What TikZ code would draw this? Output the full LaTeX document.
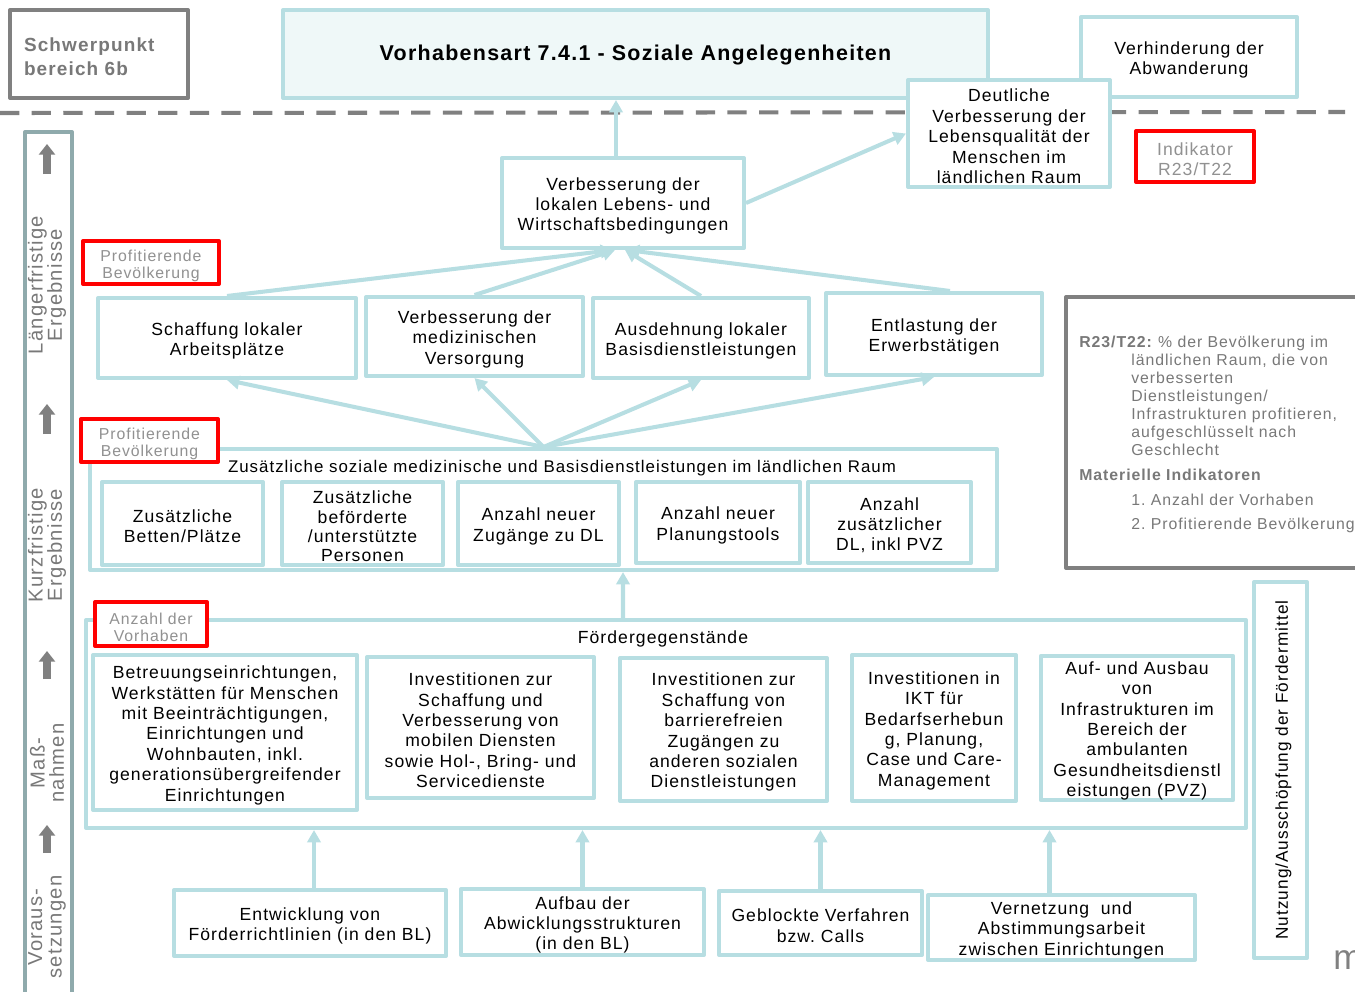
\documentclass[tikz,border=0pt]{standalone}
\usepackage{fontspec}
\setmainfont{Liberation Sans}[LetterSpace=6.0]
\usetikzlibrary{arrows.meta,calc}
\definecolor{boxcyan}{RGB}{183,222,226}
\definecolor{titlefill}{RGB}{239,248,248}
\definecolor{framegray}{RGB}{128,128,128}
\definecolor{sidegray}{RGB}{143,170,172}
\definecolor{txtgray}{RGB}{120,120,120}
\definecolor{redgray}{RGB}{145,145,145}
\frenchspacing
\begin{document}
\begin{tikzpicture}[x=0.02cm,y=-0.02cm,line join=round,
    every node/.style={font=\fontsize{10}{11.6}\selectfont,align=center,inner sep=0pt},
    sz/.style 2 args={minimum width=#1*0.02cm,minimum height=#2*0.02cm,text width={(#1-8)*0.02cm}},
    lowtxt/.style={execute at begin node={\rule{0pt}{10.5pt}}},
    box/.style={draw=boxcyan,line width=2.3pt,fill=white,lowtxt},
    redbox/.style={draw=red,line width=2.3pt,fill=white,text=redgray,lowtxt,font=\fontsize{9}{9.6}\selectfont},
    arr/.style={draw=boxcyan,line width=2.3pt,-{Triangle[length=7pt,width=7.5pt]}},
    sidearr/.style={draw=framegray,line width=4pt,-{Triangle[length=6pt,width=9pt]}},
    sidetxt/.style={rotate=90,text=txtgray,font=\fontsize{11.5}{11}\selectfont},
    dashln/.style={draw=framegray,line width=2.3pt,dash pattern=on 11pt off 7pt}]
    \useasboundingbox (0,0) rectangle (1355,991);
    % Kopfzeile
    \node[draw=framegray,line width=2.3pt,sz={178}{88},text=txtgray,align=left,text width=150*0.02cm,lowtxt,
        font=\bfseries\fontsize{10.8}{13.6}\selectfont] (sp) at (99,54) {Schwerpunkt\\bereich 6b};
    \node[draw=boxcyan,fill=titlefill,line width=2.3pt,sz={705}{88},lowtxt,font=\bfseries\fontsize{12.2}{14}\selectfont]
        (title) at (635.5,54) {Vorhabensart 7.4.1 - Soziale Angelegenheiten};
    \node[box,sz={216}{80}] (abw) at (1189,57) {Verhinderung der\\Abwanderung};
    \draw[dashln] (0,113)--(1345,112);
    \node[box,sz={202}{107}] (lq) at (1009,133.5) {Deutliche\\Verbesserung der\\Lebensqualität der\\Menschen im\\ländlichen Raum};
    \node[redbox,sz={118}{51},font=\fontsize{10}{11.6}\selectfont] (ind) at (1195,156.5) {Indikator\\R23/T22};
    % Seitenleiste
    \draw[sidegray,line width=2.3pt] (25,132) rectangle (72,1010);
    \draw[sidearr] (47,174)--(47,144);
    \draw[sidearr] (47,434)--(47,404);
    \draw[sidearr] (47,679)--(47,651);
    \draw[sidearr] (47,853)--(47,825);
    \node[sidetxt] (lt) at (47,285) {Längerfristige\\Ergebnisse};
    \node[sidetxt] (kt) at (47,545) {Kurzfristige\\Ergebnisse};
    \node[sidetxt] (mt) at (47,763) {Maß-\\nahmen};
    \node[sidetxt] (vt) at (47,927) {Voraus-\\setzungen};
    % laengerfristige Ergebnisse
    \node[box,sz={242}{90}] (vl) at (623,203) {Verbesserung der\\lokalen Lebens- und\\Wirtschaftsbedingungen};
    \draw[arr] (vl.north)++(-7,0) coordinate (v0)--(v0 |- title.south);
    \draw[arr] (vl.east)--(lq.west);
    \node[redbox,sz={136}{43}] (pb1) at (151,262.5) {Profitierende\\Bevölkerung};
    \node[box,sz={258}{80}] (arb) at (227,338) {Schaffung lokaler\\Arbeitsplätze};
    \node[box,sz={217}{79}] (med) at (474.5,336.5) {Verbesserung der\\medizinischen\\Versorgung};
    \node[box,sz={216}{80}] (bdl) at (701,338) {Ausdehnung lokaler\\Basisdienstleistungen};
    \node[box,sz={216}{82}] (erw) at (934,334) {Entlastung der\\Erwerbstätigen};
    \draw[arr] (arb.north)--($(vl.south)+(-10,0)$);
    \draw[arr] (med.north)--($(vl.south)+(-8,0)$);
    \draw[arr] (bdl.north)--($(vl.south)+(2,0)$);
    \draw[arr] ($(erw.north)+(16,0)$)--($(vl.south)+(4,0)$);
    % kurzfristige Ergebnisse
    \node[box,sz={907}{121}] (zus) at (543.5,509.5) {};
    \node[lowtxt,font=\fontsize{9.6}{11.6}\selectfont] (zust) at (562,465) {Zusätzliche soziale medizinische und Basisdienstleistungen im ländlichen Raum};
    \node[box,sz={161}{83}] (z1) at (182.5,523.5) {Zusätzliche\\Betten/Plätze};
    \node[box,sz={161}{83},font=\fontsize{10}{10.9}\selectfont] (z2) at (362.5,523.5) {Zusätzliche\\beförderte\\/unterstützte\\Personen};
    \node[box,sz={161}{83}] (z3) at (538.5,523.5) {Anzahl neuer\\Zugänge zu DL};
    \node[box,sz={164}{81}] (z4) at (718,522.5) {Anzahl neuer\\Planungstools};
    \node[box,sz={163}{81}] (z5) at (889.5,522.5) {Anzahl\\zusätzlicher\\DL, inkl PVZ};
    \node[redbox,sz={137}{43}] (pb2) at (149.5,440.5) {Profitierende\\Bevölkerung};
    \foreach \n in {arb,med,bdl,erw}
        \draw[arr] (zus.north)--(\n.south);
    % Massnahmen
    \node[box,sz={1160}{208}] (foe) at (666,724) {};
    \node[lowtxt] (foet) at (663,636) {Fördergegenstände};
    \draw[arr] ($(foe.north)+(-43,0)$)--($(zus.south)+(79.5,0)$);
    \node[redbox,sz={112}{44}] (av) at (151,624) {Anzahl der\\Vorhaben};
    \node[box,sz={264}{155}] (f1) at (225,732.5) {Betreuungseinrichtungen,\\Werkstätten für Menschen\\mit Beeinträchtigungen,\\Einrichtungen und\\Wohnbauten, inkl.\\generationsübergreifender\\Einrichtungen};
    \node[box,sz={227}{141}] (f2) at (480.5,727.5) {Investitionen zur\\Schaffung und\\Verbesserung von\\mobilen Diensten\\sowie Hol-, Bring- und\\Servicedienste};
    \node[box,sz={207}{143}] (f3) at (723.5,729.5) {Investitionen zur\\Schaffung von\\barrierefreien\\Zugängen zu\\anderen sozialen\\Dienstleistungen};
    \node[box,sz={164}{146}] (f4) at (934,728) {Investitionen in\\IKT für\\Bedarfserhebun\\g, Planung,\\Case und Care-\\Management};
    \node[box,sz={192}{144}] (f5) at (1137,728) {Auf- und Ausbau\\von\\Infrastrukturen im\\Bereich der\\ambulanten\\Gesundheitsdienstl\\eistungen (PVZ)};
    % Voraussetzungen
    \node[box,sz={272}{66}] (b1) at (310,923) {Entwicklung von\\Förderrichtlinien (in den BL)};
    \node[box,sz={243}{66}] (b2) at (582.5,922) {Aufbau der\\Abwicklungsstrukturen\\(in den BL)};
    \node[box,sz={203}{64}] (b3) at (820.5,923) {Geblockte Verfahren\\bzw. Calls};
    \node[box,sz={267}{65}] (b4) at (1061.5,927.5) {Vernetzung\ \ und\\Abstimmungsarbeit\\zwischen Einrichtungen};
    \draw[arr] (b1.north)++(4,0) coordinate (c1)--(c1 |- foe.south);
    \draw[arr] (b2.north)--(b2.north |- foe.south);
    \draw[arr] (b3.north)--(b3.north |- foe.south);
    \draw[arr] (b4.north)++(-12,0) coordinate (c4)--(c4 |- foe.south);
    % rechte Seite
    \node[box,rotate=90,sz={376}{53},font=\fontsize{9.8}{11}\selectfont] (nutz) at (1280.5,770) {Nutzung/Ausschöpfung der Fördermittel};
    \draw[framegray,line width=2.3pt] (1066,297) rectangle (1420,568);
    \node[anchor=north west,align=left,text=txtgray,font=\fontsize{9}{10.2}\selectfont] (r1) at (1079,336)
        {\textbf{R23/T22:} \% der Bevölkerung im\\
        \hspace*{1.04cm}ländlichen Raum, die von\\
        \hspace*{1.04cm}verbesserten\\
        \hspace*{1.04cm}Dienstleistungen/\\
        \hspace*{1.04cm}Infrastrukturen profitieren,\\
        \hspace*{1.04cm}aufgeschlüsselt nach\\
        \hspace*{1.04cm}Geschlecht};
    \node[anchor=north west,text=txtgray,font=\bfseries\fontsize{9}{10.2}\selectfont] (r2) at (1079,469) {Materielle Indikatoren};
    \node[anchor=north west,align=left,text=txtgray,font=\fontsize{9}{13.6}\selectfont] (r3) at (1131,494)
        {1. Anzahl der Vorhaben\\2. Profitierende Bevölkerung};
    \node[anchor=base west,text=framegray,font=\fontsize{20}{20}\selectfont] (logo) at (1333,969) {m};
\end{tikzpicture}
\end{document}
